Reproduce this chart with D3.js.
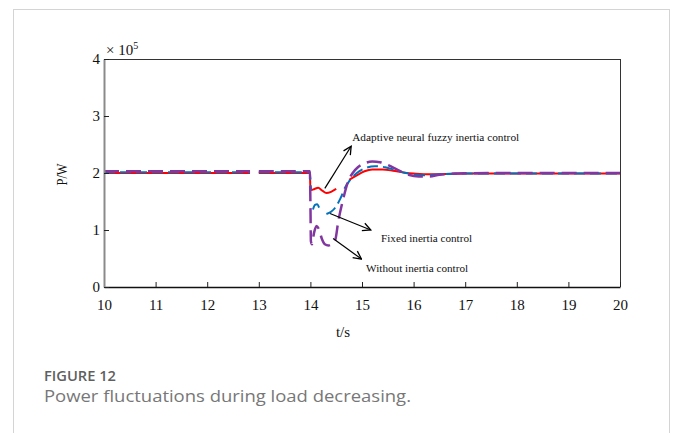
<!doctype html>
<html lang="en">
<head>
<meta charset="utf-8">
<title>Power fluctuations during load decreasing</title>
<script src="https://d3js.org/d3.v7.min.js"></script>
<style>
  body { margin: 0; background: #fff; }
  svg text { font-family: "Liberation Serif", "Times New Roman", serif; }
</style>
</head>
<body>
<svg id="chart" width="682" height="433"></svg>
<script>
// time axis ticks (s) and power ticks (x10^5 W)
var xTicks = [10, 11, 12, 13, 14, 15, 16, 17, 18, 19, 20];
var yTicks = [0, 1, 2, 3, 4];

// adaptive neural fuzzy inertia control (red), null = gap in the curve
var adaptiveT = [10, 12.83, 12.9, 13.0, 13.99, 14.0, 14.02, 14.08, 14.15, 14.23, 14.31, 14.4, 14.5, 14.6, 14.75, 14.9, 15.05, 15.2, 15.4, 15.6, 15.8, 16.0, 16.2, 16.5, 17, 18, 20];
var adaptiveP = [2.0, 2.0, null, 2.0, 2.0, 1.74, 1.70, 1.72, 1.74, 1.69, 1.65, 1.67, 1.72, null, 1.88, 1.96, 2.03, 2.06, 2.06, 2.04, 2.01, 1.99, 1.98, 1.98, 1.99, 1.99, 1.99];

// fixed inertia control (blue)
var fixedT = [10, 12.83, 12.9, 13.0, 13.99, 14.0, 14.015, 14.03, 14.05, 14.09, 14.13, 14.17, 14.24, 14.31, 14.4, 14.48, 14.58, 14.67, 14.77, 14.9, 15.05, 15.25, 15.45, 15.65, 15.85, 16.05, 16.25, 16.5, 17, 18, 20];
var fixedP = [2.015, 2.015, null, 2.015, 2.015, 1.82, 1.70, null, 1.36, 1.44, 1.45, 1.39, null, 1.28, 1.32, 1.39, 1.55, 1.74, 1.88, 2.0, 2.08, 2.12, 2.10, 2.05, 2.0, 1.97, 1.96, 1.98, 1.99, 1.99, 1.99];

// without inertia control (purple)
var withoutT = [10, 12.83, 12.9, 13.0, 13.99, 14.0, 14.01, 14.03, 14.07, 14.12, 14.17, 14.22, 14.28, 14.35, 14.42, 14.48, 14.54, 14.64, 14.73, 14.82, 14.92, 15.05, 15.2, 15.35, 15.5, 15.7, 15.9, 16.1, 16.3, 16.5, 16.8, 17.5, 20];
var withoutP = [2.03, 2.03, null, 2.03, 2.03, 1.5, 0.8, 0.75, 0.95, 1.07, 1.0, 0.85, 0.75, 0.73, 0.76, 0.82, 1.15, 1.56, 1.85, 2.0, 2.1, 2.17, 2.2, 2.19, 2.14, 2.05, 1.97, 1.94, 1.94, 1.97, 1.99, 2.0, 2.0];

// annotation arrows: label, arrow start (t,P), arrow end (t,P), label position (t,P), label width
var noteLabels = ["Adaptive neural fuzzy inertia control", "Fixed inertia control", "Without inertia control"];
var noteFrom = [[14.28, 1.73], [14.38, 1.29], [14.44, 0.85]];
var noteTo = [[14.79, 2.47], [15.17, 1.0], [14.99, 0.49]];
var noteText = [[14.81, 2.56], [15.37, 0.79], [15.08, 0.27]];
var noteWidth = [167, 91, 102];

var svg = d3.select("#chart");

// outer frame of the figure panel
svg.append("rect").attr("x", 13.5).attr("y", 9.5).attr("width", 656).attr("height", 460)
  .attr("fill", "none").attr("stroke", "#d4d4d4").attr("stroke-width", 1);

var x = d3.scaleLinear().domain([10, 20]).range([104, 620]);
var y = d3.scaleLinear().domain([0, 4]).range([287, 59]);

// plot box (top and right)
svg.append("line").attr("x1", 104).attr("x2", 620).attr("y1", 59.5).attr("y2", 59.5).attr("stroke", "#333");
svg.append("line").attr("x1", 620.5).attr("x2", 620.5).attr("y1", 59).attr("y2", 287).attr("stroke", "#333");

function series(ts, ps) {
  return ts.map(function(t, i) { return { t: t, p: ps[i] }; });
}
var line = d3.line()
  .defined(function(d) { return d.p !== null; })
  .x(function(d) { return x(d.t); })
  .y(function(d) { return y(d.p); })
  .curve(d3.curveMonotoneX);

svg.append("path").datum(series(adaptiveT, adaptiveP)).attr("d", line)
  .attr("fill", "none").attr("stroke", "#ff0000").attr("stroke-width", 2);
svg.append("path").datum(series(fixedT, fixedP)).attr("d", line)
  .attr("fill", "none").attr("stroke", "#0072bd").attr("stroke-width", 2)
  .attr("stroke-dasharray", "11,5");
svg.append("path").datum(series(withoutT, withoutP)).attr("d", line)
  .attr("fill", "none").attr("stroke", "#8236a0").attr("stroke-width", 2.5)
  .attr("stroke-dasharray", "15,7");

// axes with inward ticks
var xAxis = svg.append("g").attr("transform", "translate(0,287)")
  .call(d3.axisBottom(x).tickValues(xTicks).tickFormat(d3.format("d"))
    .tickSizeInner(-5).tickSizeOuter(0).tickPadding(12));
var yAxis = svg.append("g").attr("transform", "translate(104,0)")
  .call(d3.axisLeft(y).tickValues(yTicks).tickFormat(d3.format("d"))
    .tickSizeInner(-5).tickSizeOuter(0).tickPadding(4));
xAxis.select(".domain").attr("stroke", "#111").attr("stroke-width", 1.5);
yAxis.select(".domain").attr("stroke", "#8a8a8a").attr("stroke-width", 2);
svg.selectAll(".tick line").attr("stroke", "#222");
svg.selectAll(".tick text").attr("font-size", 15).attr("fill", "#111")
  .style("font-family", "'Liberation Serif', 'Times New Roman', serif");

// exponent note
var ex = svg.append("text").attr("x", 106).attr("y", 55).attr("font-size", 15).attr("fill", "#111");
ex.append("tspan").text("\u00d7 10");
ex.append("tspan").attr("dy", -6).attr("font-size", 10).text("5");

// axis titles
svg.append("text").attr("transform", "translate(67,174.5) rotate(-90)")
  .attr("text-anchor", "middle").attr("font-size", 15).attr("fill", "#111")
  .attr("textLength", 22).attr("lengthAdjust", "spacingAndGlyphs").text("P/W");
svg.append("text").attr("x", 343).attr("y", 337).attr("text-anchor", "middle")
  .attr("font-size", 15).attr("fill", "#111").text("t/s");

// annotation arrows
svg.append("defs").append("marker").attr("id", "arrow")
  .attr("viewBox", "0 0 10 10").attr("refX", 9).attr("refY", 5)
  .attr("markerWidth", 10).attr("markerHeight", 10).attr("markerUnits", "userSpaceOnUse")
  .attr("orient", "auto")
  .append("path").attr("d", "M1,1 L9,5 L1,9").attr("fill", "none").attr("stroke", "#000").attr("stroke-width", 1.3);

noteLabels.forEach(function(label, i) {
  svg.append("line")
    .attr("x1", x(noteFrom[i][0])).attr("y1", y(noteFrom[i][1]))
    .attr("x2", x(noteTo[i][0])).attr("y2", y(noteTo[i][1]))
    .attr("stroke", "#000").attr("stroke-width", 1.2).attr("marker-end", "url(#arrow)");
  svg.append("text").attr("x", x(noteText[i][0])).attr("y", y(noteText[i][1]))
    .attr("font-size", 10).attr("fill", "#111")
    .attr("textLength", noteWidth[i]).attr("lengthAdjust", "spacingAndGlyphs")
    .text(label);
});

// caption
svg.append("text").attr("x", 44).attr("y", 381)
  .attr("font-size", 15).attr("font-weight", 600).attr("fill", "#5f5f5f")
  .attr("textLength", 72).attr("lengthAdjust", "spacingAndGlyphs")
  .style("font-family", "'Open Sans', 'Noto Sans', sans-serif").text("FIGURE 12");
svg.append("text").attr("x", 44).attr("y", 402)
  .attr("font-size", 17).attr("fill", "#777")
  .attr("textLength", 367).attr("lengthAdjust", "spacingAndGlyphs")
  .style("font-family", "'Open Sans', 'Noto Sans', sans-serif").text("Power fluctuations during load decreasing.");
</script>
</body>
</html>
